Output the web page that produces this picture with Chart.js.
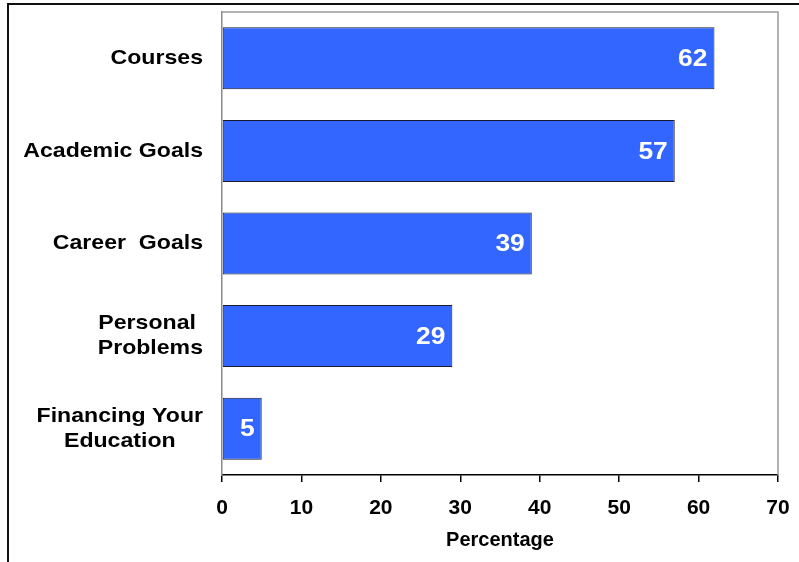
<!DOCTYPE html>
<html>
<head>
<meta charset="utf-8">
<script src="https://cdn.jsdelivr.net/npm/chart.js@4"></script>
<style>
  html, body { margin: 0; padding: 0; background: #fff; }
  #wrap { width: 799px; height: 562px; }
</style>
</head>
<body>
<div id="wrap"><canvas id="c" width="799" height="562"></canvas></div>
<script>
// Survey topics (multi-line labels as arrays) and their percentages
const categories = [
  ['Courses'],
  ['Academic Goals'],
  ['Career  Goals'],
  ['Personal ', 'Problems'],
  ['Financing Your', 'Education']
];
const percentages = [62, 57, 39, 29, 5];
const axisMin = 0;
const axisMax = 70;
const axisStep = 10;
const axisTitle = 'Percentage';

const FONT = '"Liberation Sans", Arial, Helvetica, sans-serif';
const STRETCH = 1.1; // text is drawn slightly wide

// Draws the outer frame, the plot border, category labels and value labels
const decorations = {
  id: 'decorations',
  beforeDraw(chart) {
    const ctx = chart.ctx;
    ctx.save();
    ctx.fillStyle = '#fff';
    ctx.fillRect(0, 0, chart.width, chart.height);
    ctx.fillStyle = '#111';
    ctx.fillRect(7, 3, chart.width - 7, 2);
    ctx.fillRect(7, 3, 2, chart.height - 3);
    ctx.restore();
  },
  afterDraw(chart) {
    const ctx = chart.ctx;
    const area = chart.chartArea;
    const xs = chart.scales.x;
    const ys = chart.scales.y;
    ctx.save();

    // gray top and right border of the plot
    ctx.strokeStyle = '#9a9a9a';
    ctx.lineWidth = 1.5;
    ctx.beginPath();
    ctx.moveTo(area.left, area.top);
    ctx.lineTo(area.right, area.top);
    ctx.lineTo(area.right, area.bottom);
    ctx.stroke();

    // category labels: block right-aligned, lines centered within it
    ctx.fillStyle = '#000';
    ctx.font = 'bold 21px ' + FONT;
    ctx.textBaseline = 'middle';
    ctx.textAlign = 'center';
    const labelRight = area.left - 19;
    const lineGap = 25;
    categories.forEach((lines, i) => {
      const cy = ys.getPixelForValue(i);
      let blockW = 0;
      lines.forEach(l => { blockW = Math.max(blockW, ctx.measureText(l).width * STRETCH); });
      const cx = labelRight - blockW / 2;
      const y0 = cy - (lines.length - 1) * lineGap / 2;
      lines.forEach((l, j) => {
        ctx.save();
        ctx.translate(cx, y0 + j * lineGap);
        ctx.scale(STRETCH, 1);
        ctx.fillText(l, 0, 0);
        ctx.restore();
      });
    });

    // value labels inside the bar ends
    ctx.fillStyle = '#fff';
    ctx.font = 'bold 24px ' + FONT;
    ctx.textAlign = 'right';
    percentages.forEach((v, i) => {
      const x = xs.getPixelForValue(v) - 7;
      const y = ys.getPixelForValue(i) + 1;
      ctx.save();
      ctx.translate(x, y);
      ctx.scale(STRETCH, 1);
      ctx.fillText(String(v), 0, 0);
      ctx.restore();
    });
    ctx.restore();
  }
};

new Chart(document.getElementById('c'), {
  type: 'bar',
  data: {
    labels: categories,
    datasets: [{
      data: percentages,
      backgroundColor: '#3366ff',
      borderColor: '#1a1a2a',
      borderWidth: 1,
      borderSkipped: false,
      barPercentage: 0.67,
      categoryPercentage: 1
    }]
  },
  options: {
    indexAxis: 'y',
    responsive: false,
    animation: false,
    devicePixelRatio: 1,
    layout: { padding: { top: 12, right: 21, left: 0, bottom: 0 } },
    plugins: {
      legend: { display: false },
      tooltip: { enabled: false }
    },
    scales: {
      x: {
        min: axisMin,
        max: axisMax,
        ticks: {
          stepSize: axisStep,
          color: '#000',
          padding: 14,
          font: { family: FONT, size: 21, weight: 'bold' },
          maxRotation: 0
        },
        grid: {
          drawOnChartArea: false,
          drawTicks: true,
          tickLength: 7,
          color: '#000',
          lineWidth: 1.5
        },
        border: { display: true, color: '#000', width: 1.5 },
        title: {
          display: true,
          text: axisTitle,
          color: '#000',
          font: { family: FONT, size: 20, weight: 'bold' },
          padding: { top: 6, bottom: 10 }
        },
        afterFit(scale) {
          scale.height = 87;
          scale.paddingLeft = 0;
          scale.paddingRight = 0;
        }
      },
      y: {
        ticks: { display: false },
        grid: { display: false, drawTicks: false },
        border: { display: true, color: '#8a8a8a', width: 1.5 },
        afterFit(scale) { scale.width = 222; }
      }
    }
  },
  plugins: [decorations]
});
</script>
</body>
</html>
